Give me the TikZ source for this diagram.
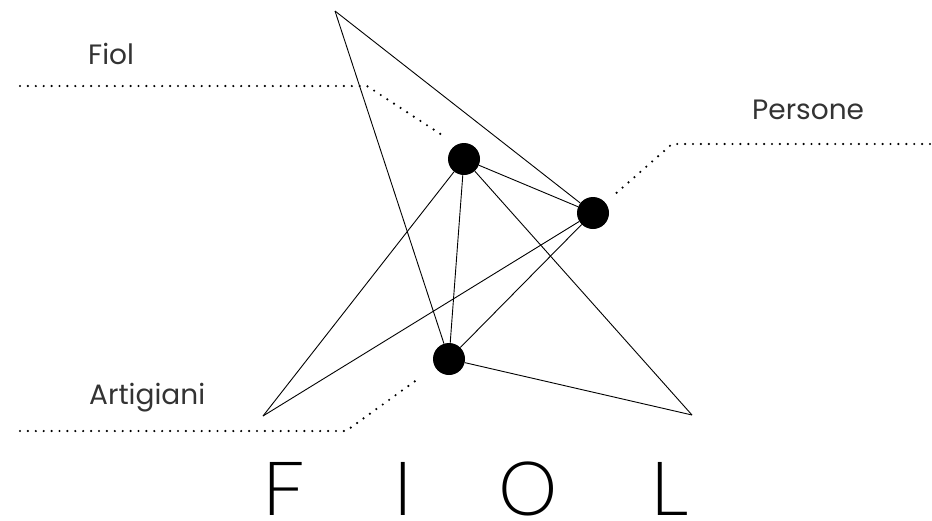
\documentclass[tikz,border=0pt]{standalone}
\usepackage{fontspec}
\setmainfont{Lato}
\newfontfamily\thinfont{Lato}[UprightFont={* Light}]
\newfontfamily\lblfont{Poppins}
\definecolor{txt}{HTML}{333333}
\tikzset{
  dot/.style={circle,fill=black,minimum size=32pt,inner sep=0pt},
  edge/.style={line width=0.9pt,black},
  dots/.style={line width=2.4pt,dash pattern=on 0pt off 7.9pt,line cap=round,black},
  lbl/.style={anchor=base west,inner sep=0pt,text=txt,font=\lblfont\fontsize{28}{30}\selectfont},
  big/.style={anchor=base,inner sep=0pt,text=black,font=\thinfont\fontsize{75}{80}\selectfont}
}
\begin{document}
\begin{tikzpicture}[x=1pt,y=-1pt]
\useasboundingbox (0,0) rectangle (932,520);
% key points
\coordinate (T) at (335,11);
\coordinate (L) at (263,416);
\coordinate (R) at (692,415);
\node[dot] (A) at (464,159) {};
\node[dot] (B) at (593,213) {};
\node[dot] (C) at (449,359) {};
% edges
\draw[edge] (T) -- (C);
\draw[edge] (T) -- (B);
\draw[edge] (A) -- (B);
\draw[edge] (A) -- (L);
\draw[edge] (A) -- (C);
\draw[edge] (A) -- (R);
\draw[edge] (B) -- (L);
\draw[edge] (B) -- (C);
\draw[edge] (C) -- (R);
% dotted leaders
\coordinate (fa) at (20,86);
\coordinate (fb) at (367,86);
\coordinate (fc) at (445,137);
\draw[dots] (fa) -- (fb) -- (fc);
\coordinate (pa) at (930,144);
\coordinate (pb) at (672,144);
\coordinate (pc) at (613,196);
\draw[dots] (pa) -- (pb) -- (pc);
\coordinate (aa) at (20,431);
\coordinate (ab) at (346,431);
\coordinate (ac) at (418,379);
\draw[dots] (aa) -- (ab) -- (ac);
% labels
\node[lbl] (lf) at (88,64) {Fiol};
\node[lbl] (lp) at (752,119) {Persone};
\node[lbl] (la) at (89,404) {Artigiani};
% title
\node[big] (tF) at (284,515) {F};
\node[big] (tI) at (403,515) {I};
\node[big] (tO) at (528,515) {O};
\node[big] (tL) at (669,515) {L};
\end{tikzpicture}
\end{document}
